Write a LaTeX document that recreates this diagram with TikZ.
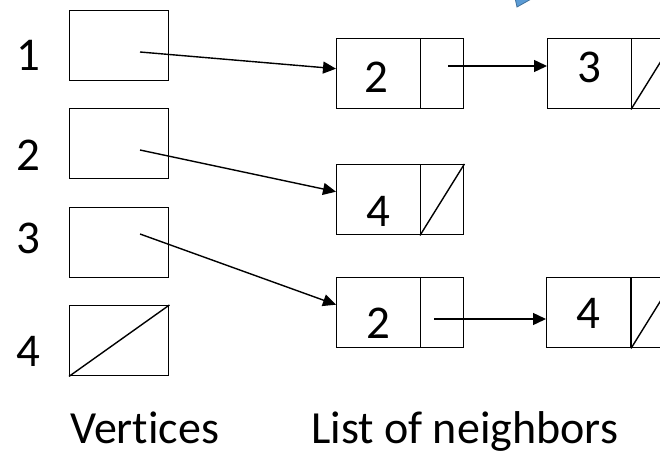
\documentclass[tikz,border=0pt]{standalone}
\usepackage{fontspec}
\setmainfont{Carlito}[Ligatures=NoCommon]
\usetikzlibrary{arrows.meta}
\definecolor{accentblue}{HTML}{5B9BD5}
\definecolor{accentedge}{HTML}{41719C}
\begin{document}
\begin{tikzpicture}[x=1pt,y=-1pt,
  box/.style={draw,line width=1.4pt,minimum width=#1,minimum height=70pt,
    inner sep=0pt,anchor=north west},
  nilbox/.style={box=#1,append after command={
    (\tikzlastnode.south west) edge[draw,line width=1.4pt] (\tikzlastnode.north east)}},
  digit/.style={anchor=base,inner sep=0pt,font=\fontsize{47}{56}\selectfont},
  caption/.style={anchor=base west,inner sep=0pt,font=\fontsize{46}{55}\selectfont},
  link/.style={line width=1.4pt,-{Triangle[length=13pt,width=12pt]}}]
\useasboundingbox (0,0) rectangle (660,457);
\clip (0,0) rectangle (660,457);

% corner of a callout shape
\filldraw[fill=accentblue,draw=accentedge,line width=0.8pt]
  (515,-2) -- (533,-2) -- (517,7) -- cycle;

% vertex array
\node[box=99pt] (v1) at (69,10) {};
\node[box=99pt] (v2) at (69,108) {};
\node[box=99pt] (v3) at (69,207) {};
\node[nilbox=99pt] (v4) at (69,305) {};

\node[digit] (l1) at (28,71) {1};
\node[digit] (l2) at (28,170) {2};
\node[digit] (l3) at (28,253) {3};
\node[digit] (l4) at (28,366) {4};

% adjacency lists: value cell + pointer cell
\node[box=84pt] (a1) at (336,38) {};
\node[box=43pt] (a1p) at (420,38) {};
\node[box=84pt] (b1) at (547,38) {};
\node[nilbox=43pt] (b1p) at (631,38) {};

\node[box=84pt] (a2) at (336,164) {};
\node[nilbox=43pt] (a2p) at (420,164) {};

\node[box=84pt] (a3) at (336,277) {};
\node[box=43pt] (a3p) at (420,277) {};
\node[box=84pt] (b3) at (546,277) {};
\node[nilbox=43pt] (b3p) at (631,277) {};

\node[digit] (d1) at (376,93) {2};
\node[digit] (e1) at (589,83) {3};
\node[digit] (d2) at (378,226) {4};
\node[digit] (d3) at (378,338) {2};
\node[digit] (e3) at (588,328) {4};

% pointers
\coordinate (s1) at (140,52);
\coordinate (s2) at (140,150);
\coordinate (s3) at (140,234);
\coordinate (t1) at (448,66);
\coordinate (t3) at (434,319);
\draw[link] (s1) -- ([yshift=5pt]a1.west);
\draw[link] (s2) -- ([yshift=8pt]a2.west);
\draw[link] (s3) -- ([yshift=8pt]a3.west);
\draw[link] (t1) -- (t1 -| b1.west);
\draw[link] (t3) -- (t3 -| b3.west);

% captions
\node[caption] (cv) at (70,443) {Vertices};
\node[caption] (cl) at (311,443) {List of neighbors};
\end{tikzpicture}
\end{document}
